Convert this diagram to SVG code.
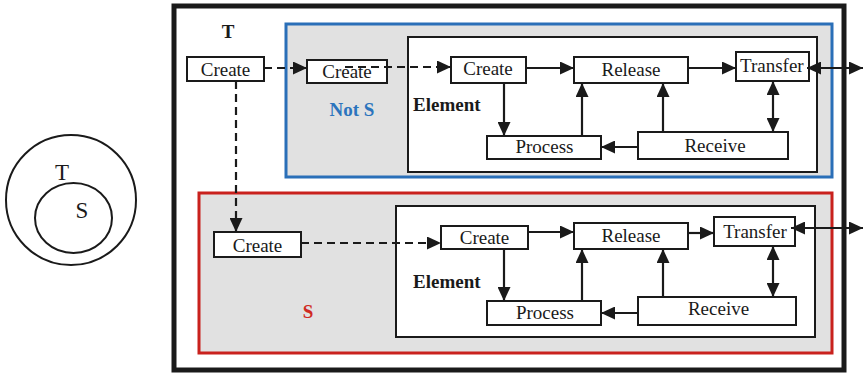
<svg xmlns="http://www.w3.org/2000/svg" width="864" height="377" viewBox="0 0 864 377">
  <style>
    .box { fill: #ffffff; stroke: #1a1a1a; stroke-width: 2; }
    .lbl { font-family: "Liberation Serif", "Times New Roman", serif; font-size: 19px; fill: #1a1a1a; text-anchor: middle; }
    .bold { font-family: "Liberation Serif", "Times New Roman", serif; font-size: 19px; font-weight: bold; fill: #1a1a1a; }
    .ln { fill: none; stroke: #1a1a1a; stroke-width: 2.2; }
    .dash { fill: none; stroke: #1a1a1a; stroke-width: 2.2; stroke-dasharray: 8 5; }
    .venn { fill: none; stroke: #1a1a1a; stroke-width: 2; }
  </style>
  <defs>
    <marker id="head" markerUnits="userSpaceOnUse" markerWidth="14" markerHeight="13" refX="14" refY="6.5" orient="auto-start-reverse">
      <path d="M0,0 L14,6.5 L0,13 Z" fill="#1a1a1a"/>
    </marker>
  </defs>

  <rect width="864" height="377" fill="#ffffff"/>

  <!-- Venn diagram: S inside T -->
  <g id="venn">
    <circle class="venn" cx="71" cy="200" r="65"/>
    <ellipse class="venn" cx="73.5" cy="218" rx="38.5" ry="35"/>
    <text x="62" y="180" font-family="Liberation Serif, serif" font-size="23" fill="#1a1a1a" text-anchor="middle">T</text>
    <text x="82" y="218" font-family="Liberation Serif, serif" font-size="23" fill="#1a1a1a" text-anchor="middle">S</text>
  </g>

  <!-- outer frame T -->
  <g id="frameT">
    <rect x="174" y="6" width="670" height="364" fill="none" stroke="#1a1a1a" stroke-width="5"/>
    <text class="bold" x="228" y="38" text-anchor="middle" font-size="18">T</text>
  </g>

  <!-- region Not S -->
  <g id="regionNotS">
    <rect x="286" y="24" width="546" height="153" fill="#e1e1e1" stroke="#2a6fb8" stroke-width="3"/>
    <text class="bold" x="352" y="116" text-anchor="middle" fill="#2b74bd" style="fill:#2b74bd">Not S</text>
  </g>

  <!-- region S -->
  <g id="regionS">
    <rect x="199" y="193" width="633" height="160" fill="#e1e1e1" stroke="#c9211d" stroke-width="3"/>
    <text class="bold" x="308" y="318" text-anchor="middle" style="fill:#d02a22">S</text>
  </g>

  <!-- element containers -->
  <g id="elementTop">
    <rect class="box" x="408" y="37" width="409" height="135"/>
    <text class="bold" x="413" y="111">Element</text>
  </g>
  <g id="elementBottom">
    <rect class="box" x="396" y="206" width="419" height="131"/>
    <text class="bold" x="413" y="288">Element</text>
  </g>

  <!-- T level -->
  <g id="createT">
    <rect class="box" x="187" y="57" width="77" height="24"/>
    <text class="lbl" x="225.5" y="76">Create</text>
  </g>
  <g id="createNotS">
    <rect class="box" x="307" y="60" width="80" height="23"/>
    <text class="lbl" x="347" y="78">Create</text>
  </g>
  <g id="createS">
    <rect class="box" x="214" y="232" width="87" height="25"/>
    <text class="lbl" x="257.5" y="252">Create</text>
  </g>

  <!-- element nodes, upper -->
  <g id="createTop">
    <rect class="box" x="451" y="57" width="75" height="26"/>
    <text class="lbl" x="488" y="75">Create</text>
  </g>
  <g id="releaseTop">
    <rect class="box" x="574" y="57" width="114" height="26"/>
    <text class="lbl" x="631" y="76">Release</text>
  </g>
  <g id="transferTop">
    <rect class="box" x="736" y="52" width="73" height="29"/>
    <text class="lbl" x="740" y="72" text-anchor="start" style="text-anchor:start">Transfer</text>
  </g>
  <g id="processTop">
    <rect class="box" x="487" y="136" width="114" height="23"/>
    <text class="lbl" x="544.5" y="153">Process</text>
  </g>
  <g id="receiveTop">
    <rect class="box" x="638" y="132" width="150" height="27"/>
    <text class="lbl" x="715" y="152">Receive</text>
  </g>

  <!-- element nodes, lower -->
  <g id="createBottom">
    <rect class="box" x="441" y="226" width="87" height="23"/>
    <text class="lbl" x="484.5" y="244">Create</text>
  </g>
  <g id="releaseBottom">
    <rect class="box" x="574" y="223" width="114" height="26"/>
    <text class="lbl" x="631" y="242">Release</text>
  </g>
  <g id="transferBottom">
    <rect class="box" x="714" y="217" width="81" height="29"/>
    <text class="lbl" x="755" y="238">Transfer</text>
  </g>
  <g id="processBottom">
    <rect class="box" x="487" y="301" width="114" height="24"/>
    <text class="lbl" x="545" y="319">Process</text>
  </g>
  <g id="receiveBottom">
    <rect class="box" x="638" y="297" width="158" height="28"/>
    <text class="lbl" x="718.5" y="315">Receive</text>
  </g>

  <!-- connectors -->
  <g id="connectors">
    <path class="dash" d="M264,68 H307" marker-end="url(#head)"/>
    <path class="dash" d="M345,67 H451" marker-end="url(#head)"/>
    <path class="dash" d="M236,81 V232" marker-end="url(#head)"/>
    <path class="dash" d="M301,243 H441" marker-end="url(#head)"/>

    <path class="ln" d="M526,68 H574" marker-end="url(#head)"/>
    <path class="ln" d="M688,68 H736" marker-end="url(#head)"/>
    <path class="ln" d="M807,68 H863" marker-start="url(#head)" marker-end="url(#head)"/>
    <path class="ln" d="M504,83 V136" marker-end="url(#head)"/>
    <path class="ln" d="M582,136 V83" marker-end="url(#head)"/>
    <path class="ln" d="M663,132 V83" marker-end="url(#head)"/>
    <path class="ln" d="M638,147 H601" marker-end="url(#head)"/>
    <path class="ln" d="M773,81 V132" marker-start="url(#head)" marker-end="url(#head)"/>

    <path class="ln" d="M528,232 H574" marker-end="url(#head)"/>
    <path class="ln" d="M688,233 H714" marker-end="url(#head)"/>
    <path class="ln" d="M791,228 H863" marker-start="url(#head)" marker-end="url(#head)"/>
    <path class="ln" d="M504,249 V301" marker-end="url(#head)"/>
    <path class="ln" d="M582,301 V249" marker-end="url(#head)"/>
    <path class="ln" d="M663,297 V249" marker-end="url(#head)"/>
    <path class="ln" d="M638,313 H601" marker-end="url(#head)"/>
    <path class="ln" d="M773,246 V297" marker-start="url(#head)" marker-end="url(#head)"/>
  </g>
</svg>
